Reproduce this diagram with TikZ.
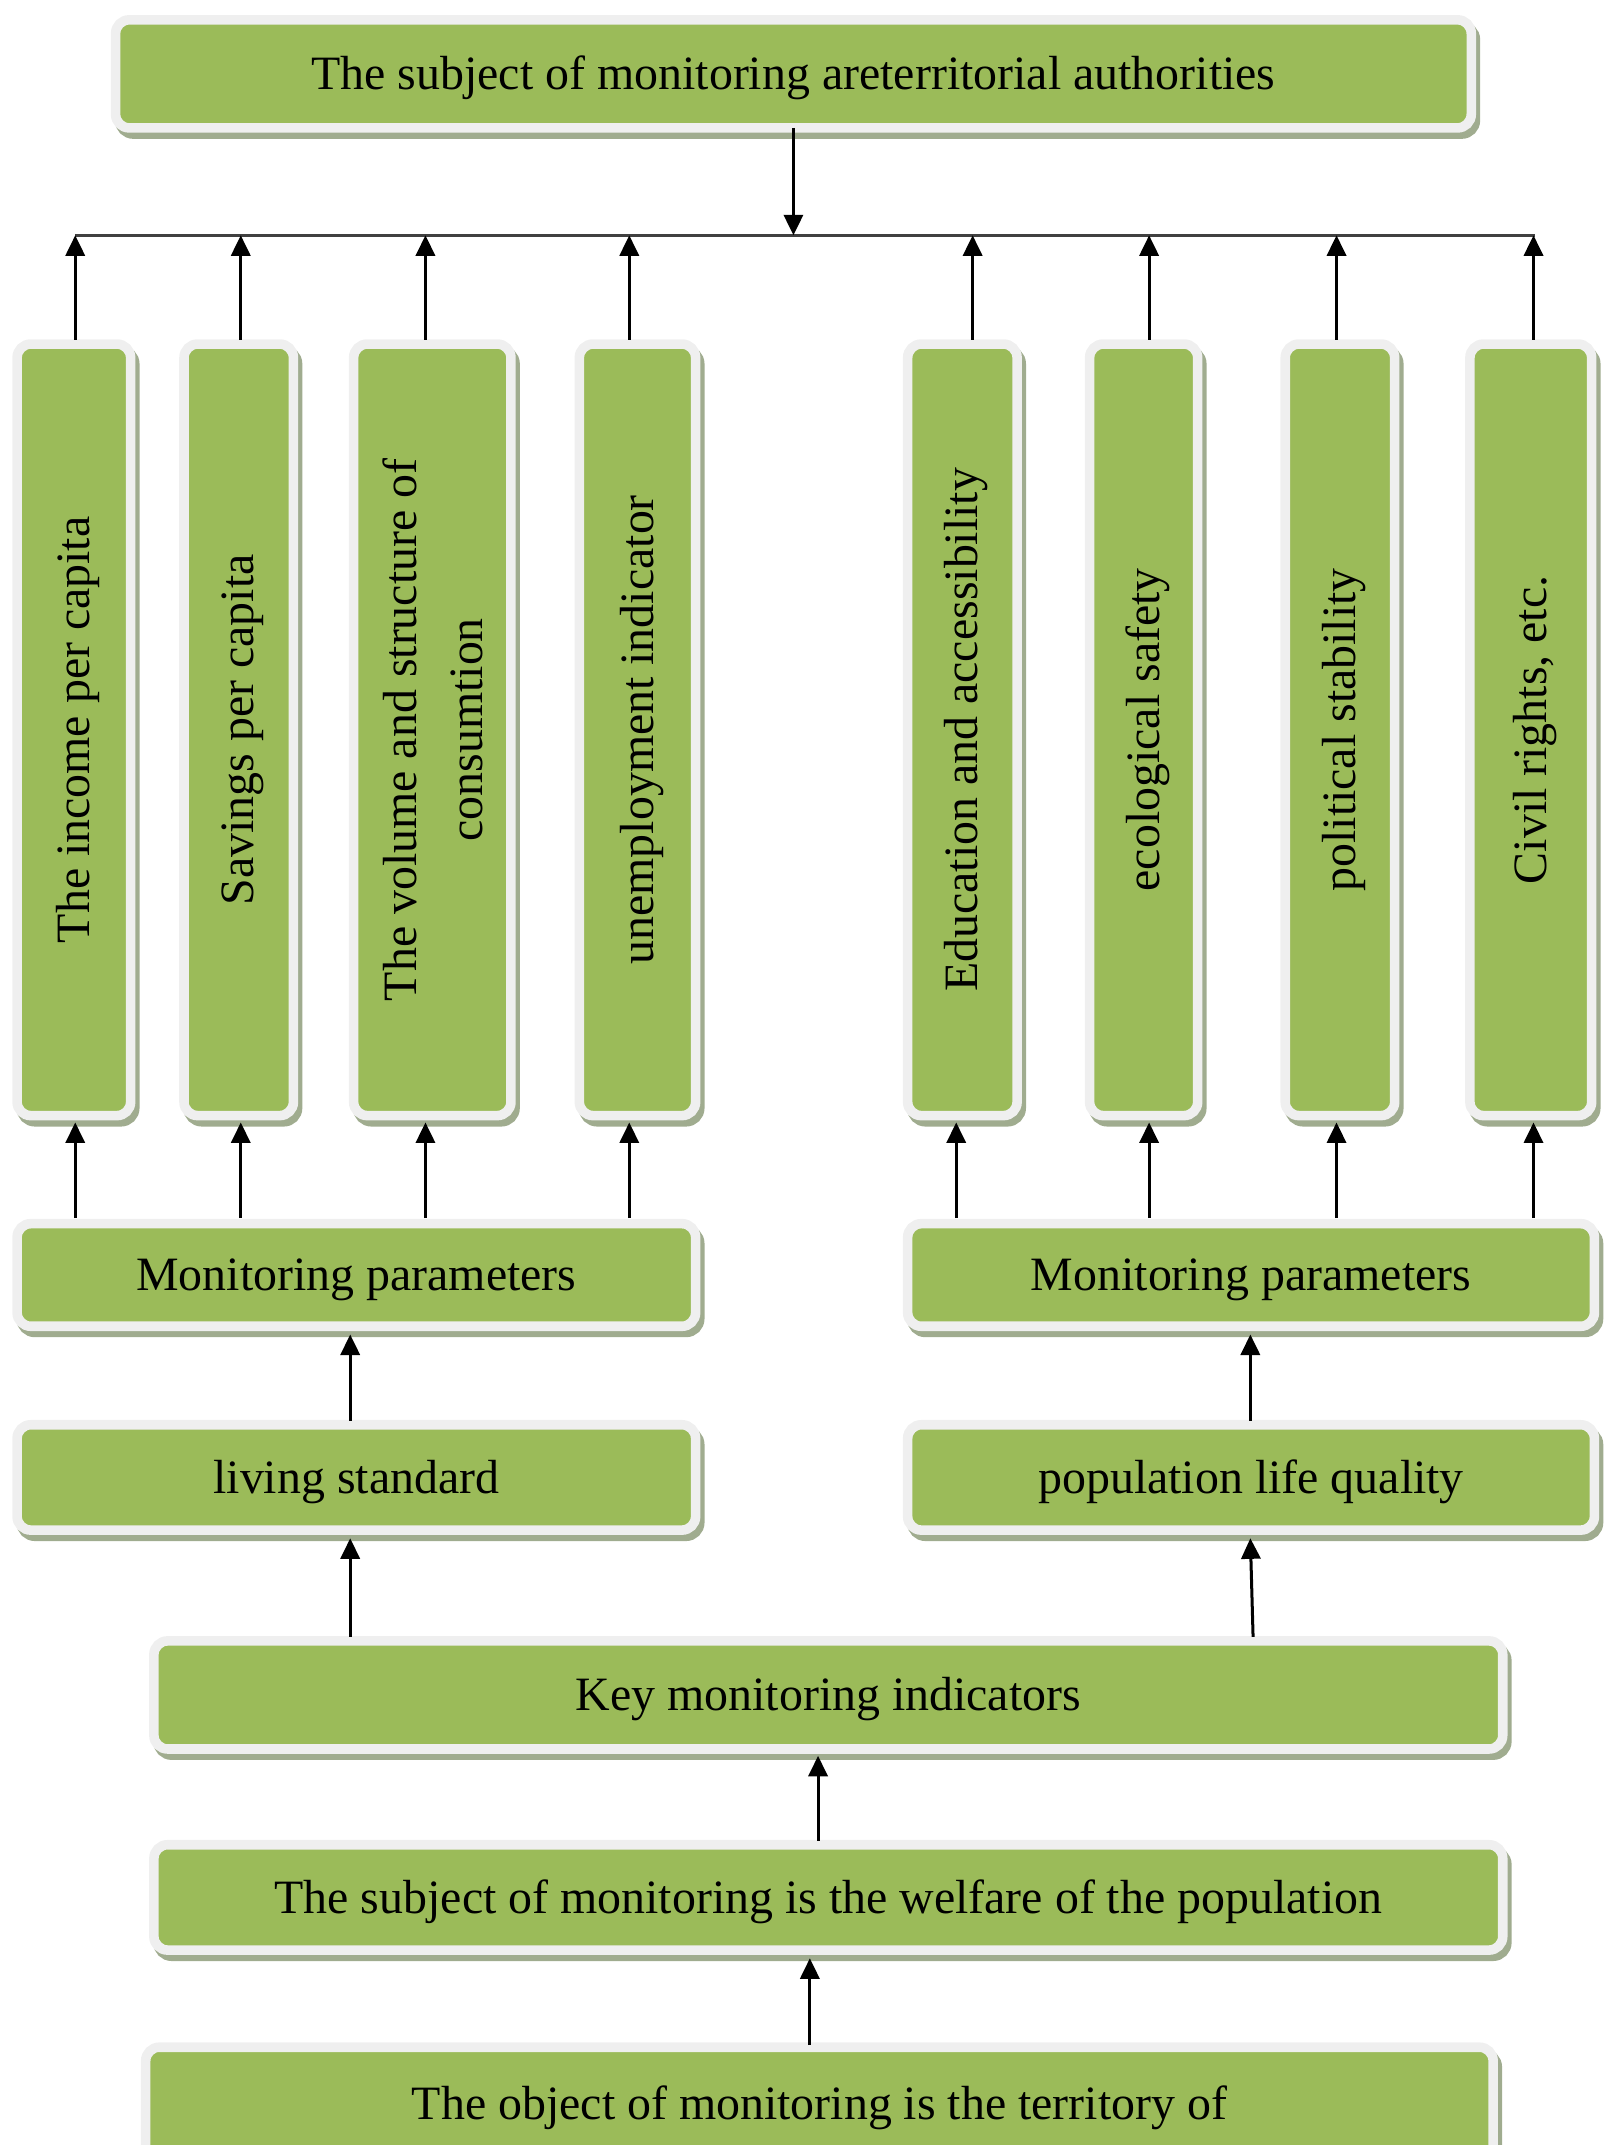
\documentclass[tikz,border=0pt]{standalone}
\usepackage{fontspec}
\setmainfont{Liberation Serif}
\usetikzlibrary{arrows.meta,shadows,calc}
\definecolor{boxgreen}{HTML}{9BBB59}
\definecolor{boxborder}{HTML}{EFEFEF}
\definecolor{shadowc}{HTML}{A0AC8F}
\definecolor{linegray}{HTML}{404040}
\newcommand{\myvt}[1]{\hspace*{6pt}\rotatebox{90}{#1}}
\begin{document}
\begin{tikzpicture}[x=1pt,y=-1pt,
  gbox/.style={rectangle, rounded corners=10pt, fill=boxgreen, draw=boxborder,
    line width=7pt, inner sep=0pt, outer sep=0pt, text=black,
    font=\fontsize{35}{48}\selectfont,
    drop shadow={shadow xshift=3pt, shadow yshift=-4.5pt, fill=shadowc,
      draw=shadowc, line width=7pt, opacity=1}},
  vbox/.style={gbox, minimum height=564pt},
  hbox/.style={gbox, minimum height=77pt, text height=31pt, text depth=7.7pt},
  arr/.style={draw=black, line width=2.2pt, -{Triangle[width=14pt,length=15pt]}},
  hlinestyle/.style={draw=linegray, line width=1.8pt}]
\useasboundingbox (0,0) rectangle (1176,1568);
\clip (0,0) rectangle (1176,1568);

% top
\node[hbox, minimum width=991pt, minimum height=79pt] (top) at (580,54)
  {The subject of monitoring areterritorial authorities};
\coordinate (hl) at (578,172);

% vertical boxes
\node[vbox, minimum width=83pt] (v1) at (54,533.5) {\myvt{The income per capita}};
\node[vbox, minimum width=80pt] (v2) at (174.5,533.5) {\myvt{Savings per capita}};
\node[vbox, minimum width=115pt] (v3) at (316,533.5)
  {\myvt{\begin{tabular}{@{}c@{}}The volume and structure of\\consumtion\end{tabular}}};
\node[vbox, minimum width=85pt] (v4) at (466,533.5) {\myvt{unemployment indicator}};
\node[vbox, minimum width=80pt] (v5) at (703.5,533.5) {\myvt{Education and accessibility}};
\node[vbox, minimum width=79pt] (v6) at (836,533.5) {\myvt{ecological safety}};
\node[vbox, minimum width=80pt] (v7) at (979.5,533.5) {\myvt{political stability}};
\node[vbox, minimum width=89pt] (v8) at (1119,533.5) {\myvt{Civil rights, etc.}};

% horizontal boxes
\node[hbox, minimum width=496pt, minimum height=75pt] (mpl) at (260.5,932) {Monitoring parameters};
\node[hbox, minimum width=502pt, minimum height=75pt] (mpr) at (914.5,932) {Monitoring parameters};
\node[hbox, minimum width=496pt] (ls) at (260.5,1080) {living standard};
\node[hbox, minimum width=502pt] (plq) at (914.5,1080) {population life quality};
\node[hbox, minimum width=986pt, minimum height=79pt] (key) at (605.5,1239) {Key monitoring indicators};
\node[hbox, minimum width=986pt] (welf) at (605.5,1387) {The subject of monitoring is the welfare of the population};
\node[hbox, minimum width=985pt, minimum height=82pt] (obj) at (599,1537.5) {The object of monitoring is the territory of};

% top connector line
\draw[hlinestyle] ([xshift=1pt]v1.north |- hl) -- ([xshift=3pt]v8.north |- hl);
\draw[arr] (top.south) -- (top.south |- hl);

% arrows from vertical boxes to the line
\foreach \n/\dx in {v1/1, v2/1.5, v3/-5, v4/-6, v5/7.5, v6/4, v7/-2.5, v8/2} {
  \draw[arr] ([xshift=\dx pt, yshift=3pt]\n.north) -- ([xshift=\dx pt]\n.north |- hl);
}
% arrows from monitoring parameters to vertical boxes
\foreach \n/\dx in {v1/1, v2/1.5, v3/-5, v4/-6} {
  \draw[arr] ([xshift=\dx pt, yshift=4pt]mpl.north -| \n) -- ([xshift=\dx pt, yshift=-5pt]\n.south);
}
\foreach \n/\dx in {v5/-4.5, v6/4, v7/-2.5, v8/2} {
  \draw[arr] ([xshift=\dx pt, yshift=4pt]mpr.north -| \n) -- ([xshift=\dx pt, yshift=-5pt]\n.south);
}
% lower chain
\draw[arr] ([xshift=-4.5pt, yshift=3pt]ls.north) -- ([xshift=-4.5pt, yshift=-6pt]mpl.south);
\draw[arr] ([xshift=-0.5pt, yshift=3pt]plq.north) -- ([xshift=-0.5pt, yshift=-6pt]mpr.south);
\draw[arr] ([xshift=-4.5pt, yshift=3pt]key.north -| ls.north) -- ([xshift=-4.5pt, yshift=-6pt]ls.south);
\draw[arr] ([xshift=1.5pt, yshift=3pt]key.north -| plq.north) -- ([xshift=-0.5pt, yshift=-6pt]plq.south);
\draw[arr] ([xshift=-7.5pt, yshift=3pt]welf.north) -- ([xshift=-7.5pt, yshift=-5pt]key.south);
\draw[arr] ([xshift=-7pt, yshift=1.5pt]obj.north) -- ([xshift=-13.5pt, yshift=-6pt]welf.south);
\end{tikzpicture}
\end{document}
